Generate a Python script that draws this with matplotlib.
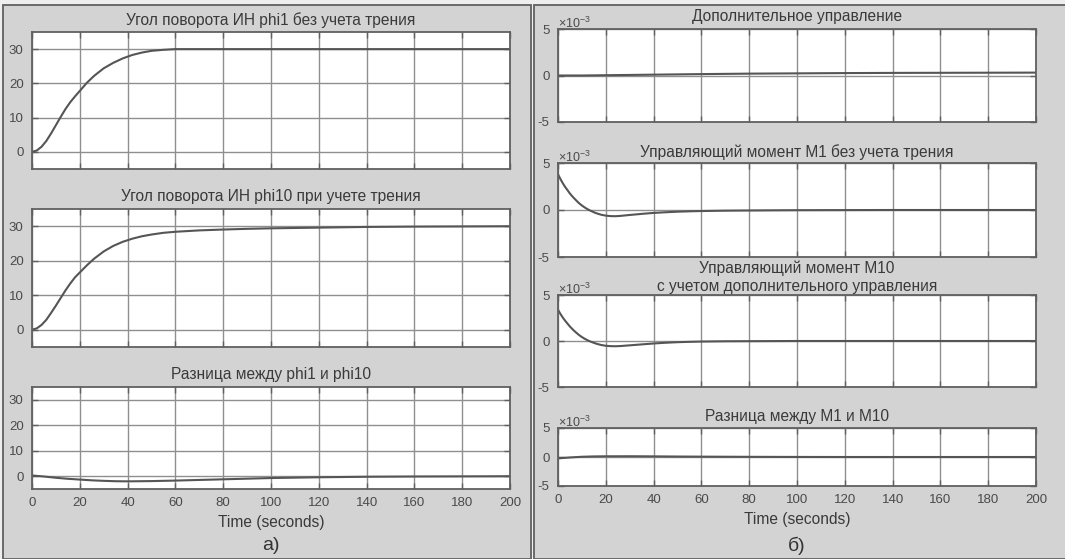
import matplotlib
matplotlib.use("Agg")
import matplotlib.pyplot as plt
from matplotlib.patches import Rectangle

plt.rcParams['font.family'] = ['Liberation Sans', 'DejaVu Sans']
plt.rcParams['mathtext.fontset'] = 'custom'
plt.rcParams['mathtext.rm'] = 'Liberation Sans'

# ---- data ----
t_phi = [0, 2, 4, 6, 8, 10, 12, 14, 16, 18, 20, 23, 26, 30, 34, 38, 42, 46, 50, 55,
         60, 70, 80, 90, 100, 120, 140, 160, 180, 200]
phi1 = [0, 0.4, 1.5, 3.2, 5.4, 7.8, 10.2, 12.5, 14.5, 16.2, 17.8, 20.2, 22.2, 24.4, 26.0, 27.3,
        28.3, 29.0, 29.5, 29.8, 30.0, 30.0, 30.0, 30.0, 30.0, 30.0, 30.0, 30.0, 30.0, 30.0]
phi10 = [0, 0.4, 1.4, 2.9, 4.9, 7.0, 9.2, 11.4, 13.4, 15.2, 16.6, 18.7, 20.6, 22.7, 24.3, 25.5,
         26.4, 27.1, 27.6, 28.1, 28.4, 28.8, 29.05, 29.25, 29.4, 29.6, 29.8, 29.9, 29.95, 30.0]

t_dphi = [0, 5, 10, 15, 20, 25, 30, 35, 40, 50, 60, 70, 80, 90, 100, 110, 120, 140, 160, 180, 200]
dphi = [0.3, -0.1, -0.6, -1.0, -1.3, -1.6, -1.8, -1.95, -2.0, -1.9, -1.7, -1.45, -1.2, -0.95,
        -0.7, -0.55, -0.4, -0.2, -0.1, -0.05, 0.0]

# control signals, units of 1e-3
t_u = [0, 10, 20, 30, 40, 50, 60, 80, 100, 120, 140, 160, 180, 200]
u_add = [0, 0.0, 0.03, 0.06, 0.09, 0.12, 0.15, 0.2, 0.23, 0.26, 0.28, 0.29, 0.3, 0.31]

t_m = [0, 1, 2, 3, 4, 5, 6, 7, 8, 9, 10, 11, 12, 13, 14, 15, 16, 18, 20, 22, 24, 26, 28, 30,
       33, 36, 40, 45, 50, 55, 60, 70, 80, 100, 120, 140, 200]
m1 = [3.8, 3.3, 2.85, 2.45, 2.1, 1.75, 1.45, 1.18, 0.92, 0.68, 0.48, 0.3, 0.14, 0.0, -0.12,
      -0.24, -0.34, -0.5, -0.6, -0.65, -0.66, -0.63, -0.58, -0.53, -0.46, -0.39, -0.31, -0.24,
      -0.18, -0.14, -0.11, -0.07, -0.05, -0.02, -0.01, 0, 0]
m10 = [3.4, 2.95, 2.55, 2.2, 1.88, 1.57, 1.3, 1.05, 0.82, 0.61, 0.43, 0.27, 0.13, 0.0, -0.1,
       -0.2, -0.29, -0.43, -0.52, -0.56, -0.57, -0.55, -0.51, -0.47, -0.41, -0.35, -0.27, -0.19,
       -0.13, -0.09, -0.06, -0.03, -0.02, 0, 0, 0, 0]

t_dm = [0, 5, 10, 15, 20, 30, 40, 50, 60, 80, 100, 120, 200]
dm = [-0.24, -0.08, 0.04, 0.1, 0.12, 0.13, 0.11, 0.08, 0.06, 0.03, 0.01, 0, 0]

titles_left = ['Угол поворота ИН phi1 без учета трения',
               'Угол поворота ИН phi10 при учете трения',
               'Разница между phi1 и phi10']
titles_right = ['Дополнительное управление',
                'Управляющий момент М1 без учета трения',
                'Управляющий момент М10\nс учетом дополнительного управления',
                'Разница между М1 и М10']

W, H = 1065, 559
fig = plt.figure(figsize=(W / 100, H / 100), dpi=100)
fig.patch.set_facecolor('#eeeeee')

BG = '#d3d3d3'
EDGE = '#606060'
LINE = '#555555'
GRID = '#8f8f8f'
TXT = '#4a4a4a'
TSIZE = 11.2


def box(x0, y0, x1, y1):
    # pixel box (top-left origin) -> axes in figure fraction
    return [x0 / W, 1 - y1 / H, (x1 - x0) / W, (y1 - y0) / H]


# panel backgrounds, kept under the axes
fig.add_artist(Rectangle((3 / W, 0), 528 / W, 1 - 5 / H, transform=fig.transFigure,
                         facecolor=BG, edgecolor=EDGE, lw=1.3, zorder=-5))
fig.add_artist(Rectangle((534 / W, 0), 540 / W, 1 - 5 / H, transform=fig.transFigure,
                         facecolor=BG, edgecolor=EDGE, lw=1.3, zorder=-5))


def style(ax, ylim, yticks, xlabels):
    ax.set_xlim(0, 200)
    ax.set_ylim(*ylim)
    ax.set_xticks(range(0, 201, 20))
    ax.set_yticks(yticks)
    ax.set_facecolor('white')
    ax.grid(True, color=GRID, lw=1.0)
    ax.set_axisbelow(True)
    for s in ax.spines.values():
        s.set_color(EDGE)
        s.set_linewidth(1.3)
    ax.tick_params(direction='in', length=4, width=1, color=EDGE, top=True, right=True,
                   labelsize=9.5, labelcolor=TXT, pad=6)
    if not xlabels:
        ax.set_xticklabels([])
    else:
        ax.set_xlabel('Time (seconds)', fontsize=TSIZE, color='#3a3a3a', labelpad=4)


# left panel
left_boxes = [(32, 32, 510, 169), (32, 209, 510, 347), (32, 387, 510, 489)]
left_data = [(t_phi, phi1), (t_phi, phi10), (t_dphi, dphi)]
left_title_y = [20, 197, 375]
for i, (b, (tx, yv)) in enumerate(zip(left_boxes, left_data)):
    ax = fig.add_axes(box(*b))
    style(ax, (-5, 35), [0, 10, 20, 30], i == 2)
    ax.plot(tx, yv, color=LINE, lw=1.5)
    fig.text((b[0] + b[2]) / 2 / W, 1 - left_title_y[i] / H, titles_left[i],
             ha='center', va='center', fontsize=TSIZE, color='#3a3a3a')

# right panel
right_boxes = [(558, 29, 1036, 122), (558, 163, 1036, 257), (558, 295, 1036, 387), (558, 428, 1036, 486)]
right_data = [(t_u, u_add), (t_m, m1), (t_m, m10), (t_dm, dm)]
right_title_y = [17, 152, 277, 417]
for i, (b, (tx, yv)) in enumerate(zip(right_boxes, right_data)):
    ax = fig.add_axes(box(*b))
    style(ax, (-5, 5), [-5, 0, 5], i == 3)
    ax.set_yticklabels(['-5', '0', '5'])
    ax.plot(tx, yv, color=LINE, lw=1.5)
    fig.text((b[0] + b[2]) / 2 / W, 1 - right_title_y[i] / H, titles_right[i],
             ha='center', va='center', fontsize=TSIZE, color='#3a3a3a', linespacing=1.25)
    fig.text(558 / W, 1 - (b[1] - 6) / H, r'$\times10^{-3}$',
             ha='left', va='center', fontsize=9, color=TXT)

fig.text(271 / W, 1 - 546 / H, 'а)', ha='center', va='center', fontsize=14, color='#333333')
fig.text(797 / W, 1 - 546 / H, 'б)', ha='center', va='center', fontsize=14, color='#333333')

fig.savefig('out.png', dpi=100, facecolor=fig.get_facecolor())
